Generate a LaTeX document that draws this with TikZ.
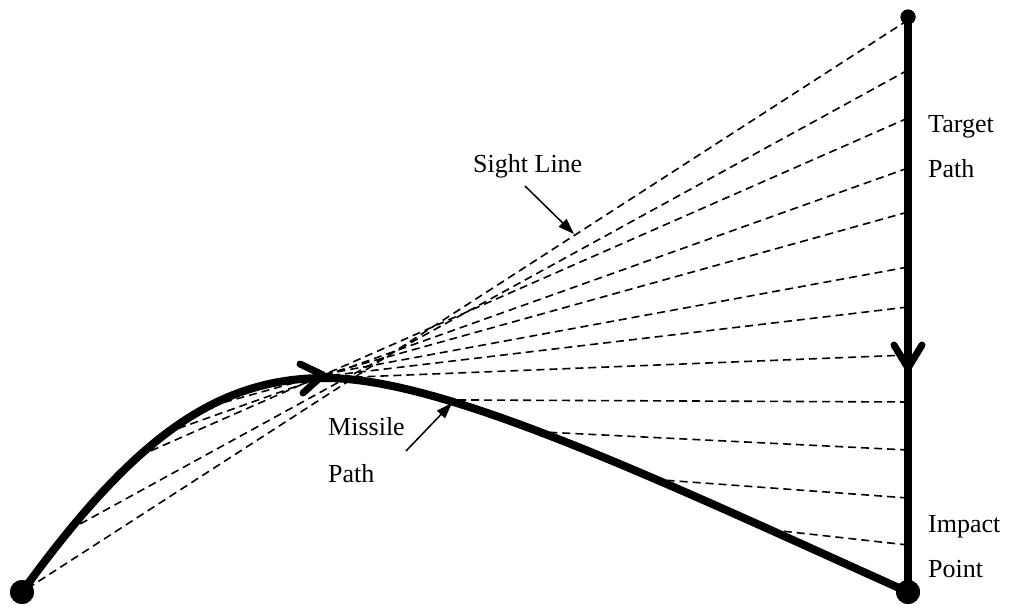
\documentclass[tikz,border=0pt]{standalone}
\usepackage{fontspec}
\setmainfont{Liberation Serif}
\usetikzlibrary{arrows.meta,calc}
\begin{document}
\begin{tikzpicture}[x=1pt,y=-1pt,
  thickpath/.style={line width=8pt, line join=round},
  sight/.style={line width=1.6pt, dash pattern=on 8pt off 5pt},
  dotnode/.style={circle, fill=black, inner sep=0pt, minimum size=#1},
  txt/.style={font=\fontsize{26}{30}\selectfont, anchor=base west, inner sep=0pt},
  pointer/.style={line width=1.5pt, -{Triangle[length=16pt,width=11pt]}},
  chev/.style={line width=7pt, line cap=round, line join=round}]
\useasboundingbox (0,0) rectangle (1009,608);
% dots
\node[dotnode=15pt] (top) at (908,17) {};
\node[dotnode=24pt] (start) at (22,592) {};
\node[dotnode=24pt] (impact) at (908,592) {};
\coordinate (hump) at (325,378);
% target path points
\foreach \i/\y in {0/20,1/70,2/118,3/168,4/212,5/267,6/307,7/355,8/402,9/450,10/498,11/545,12/592}
  \coordinate (T\i) at (908,\y);
% missile path points, placed on the missile curve
\path (start.center) .. controls (132,440) and (215,378) .. (hump)
  coordinate[pos=0] (M0) coordinate[pos=0.15] (M1) coordinate[pos=0.38] (M2)
  coordinate[pos=0.48] (M3) coordinate[pos=0.615] (M4) coordinate[pos=0.8] (M5)
  coordinate[pos=0.92] (M6);
\path (hump) .. controls (445,378) and (658,479.5) .. (impact.center)
  coordinate[pos=0.015] (M7) coordinate[pos=0.28] (M8) coordinate[pos=0.452] (M9)
  coordinate[pos=0.642] (M10) coordinate[pos=0.81] (M11);
% sight lines
\foreach \i in {0,...,11}
  \draw[sight] (T\i) -- (M\i);
% missile path
\draw[thickpath] (start.center) .. controls (132,440) and (215,378) .. (hump)
  .. controls (445,378) and (658,479.5) .. (impact.center);
% redraw dots on top
\node[dotnode=15pt] at (top) {};
\node[dotnode=24pt] at (start) {};
% target path
\draw[thickpath] (top.center) -- (impact.center);
\node[dotnode=24pt] at (impact) {};
% direction chevrons
\coordinate (ta) at (908,368);
\draw[chev] ($(ta)+(-14,-23)$) -- (ta) -- ($(ta)+(14,-23)$);
\coordinate (ma) at (323,375);
\draw[chev] ($(ma)+(-23,-11)$) -- (ma) -- ($(ma)+(-20,18)$);
% labels
\node[txt] (tgt1) at (928,132) {Target};
\node[txt] (tgt2) at (928,177) {Path};
\node[txt] (imp1) at (928,532) {Impact};
\node[txt] (imp2) at (928,577) {Point};
\node[txt] (sl) at (473,172) {Sight Line};
\node[txt] (mp1) at (328,435) {Missile};
\node[txt] (mp2) at (328,482) {Path};
% pointers
\coordinate (slA) at (525,186);
\coordinate (slB) at (574,234);
\draw[pointer] (slA) -- (slB);
\coordinate (mpA) at (406,451);
\coordinate (mpB) at (452,403);
\draw[pointer] (mpA) -- (mpB);
\end{tikzpicture}
\end{document}
